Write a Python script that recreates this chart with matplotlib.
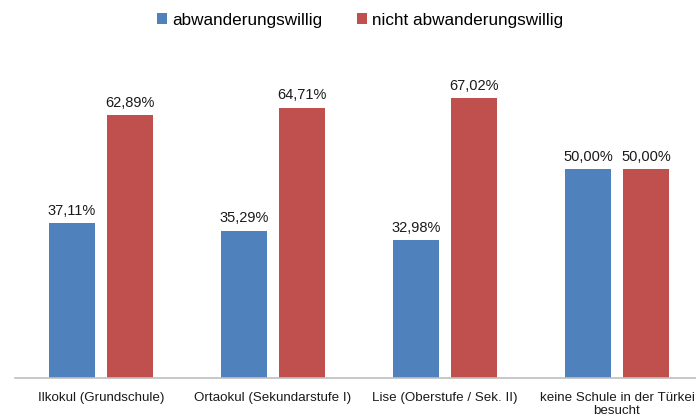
import numpy as np
import matplotlib.pyplot as plt

plt.rcParams['font.family'] = ['Liberation Sans', 'DejaVu Sans']

categories = ['Ilkokul (Grundschule)', 'Ortaokul (Sekundarstufe I)',
              'Lise (Oberstufe / Sek. II)', 'keine Schule in der Türkei\nbesucht']
willing = [37.11, 35.29, 32.98, 50.00]
not_willing = [62.89, 64.71, 67.02, 50.00]
series_names = ['abwanderungswillig', 'nicht abwanderungswillig']

blue = '#4F81BD'
red = '#C0504D'

W, H = 696, 419
fig = plt.figure(figsize=(W/100, H/100), dpi=100)
ax = fig.add_axes([15/W, (H-378)/H, 688/W, (378-44)/H])

x = np.arange(len(categories))
bw = 0.267
off = 0.169
b1 = ax.bar(x - off, willing, bw, color=blue, label=series_names[0])
b2 = ax.bar(x + off, not_willing, bw, color=red, label=series_names[1])

fmt = lambda vals: [f"{v:.2f}%".replace('.', ',') for v in vals]
ax.bar_label(b1, labels=fmt(willing), padding=4, fontsize=10.5, color='#1a1a1a')
ax.bar_label(b2, labels=fmt(not_willing), padding=4, fontsize=10.5, color='#1a1a1a')

ax.set_xlim(-0.5, len(categories) - 0.5)
ax.set_ylim(0, 80)
ax.set_xticks(x)
ax.set_xticklabels(categories, fontsize=9.6, color='#1a1a1a', linespacing=1.08)
ax.tick_params(axis='x', length=0, pad=10)
ax.set_yticks([])
for s in ['top', 'right', 'left']:
    ax.spines[s].set_visible(False)
ax.spines['bottom'].set_color('#BFBFBF')
ax.spines['bottom'].set_linewidth(1.2)

fig.legend(loc='center', bbox_to_anchor=(360/W, 1 - 20/H), ncol=2, frameon=False,
           fontsize=12.3, handlelength=0.6, handleheight=0.6, handletextpad=0.3,
           columnspacing=2.0)

plt.savefig('out.png', dpi=100)
